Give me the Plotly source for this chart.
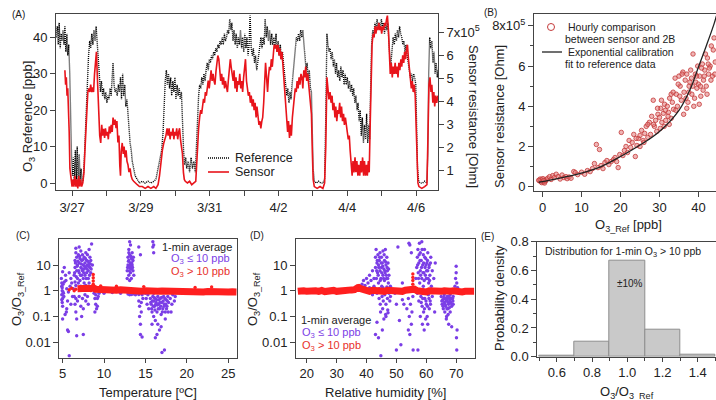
import plotly.graph_objects as go
import pandas as pd

W, H = 716, 400
FONT = "Liberation Sans, Arial, sans-serif"
BASE = pd.Timestamp("2017-03-27 00:00")

# ---------------- Panel A: time series (hours after 3/27 00:00) ----------------
ref_series = [
(-11,40),(-10.3,43),(-9.6,38),(-9,44),(-8.3,37),(-7.6,41),(-7,39),(-6.3,42),(-5.6,38),(-5,43),(-4.3,36),(-3.6,41),(-3,35),(-2.3,38),(-1.6,30),(-1,16),(-0.4,8),(0.3,2),(1,7),(1.6,0),(2.3,9),(3,1),(3.6,10),(4.3,0),(5,8),(5.6,1),(6.3,4),(7,0),(7.8,1),(8.5,6),(9.3,15),(10,22),(10.8,29),(11.5,35),(12.3,39),(13,37),(13.8,41),(14.5,38),(15.3,42),(16,39),(16.8,43),(17.5,38),(18.2,33),(19,27),(19.8,25),(20.5,28),(21.3,24),(22,26),(22.8,23),(23.5,25),(24.3,22),(25,24),(25.8,23),(26.5,26),(27.3,24),(28,29),(28.6,33),(29.3,27),(30,25),(30.8,26),(31.5,24),(32.3,27),(33,25),(33.8,29),(34.5,23),(35.3,30),(36,24),(36.8,27),(37.5,21),(38.3,23),(39,18),(39.8,15),(40.5,11),(41.3,9),(42,6),(43,4),(44,2),(45.5,1),(47,0),(49,0.5),(51,0),(53,0.5),(55,0),(57,0.5),(58.5,1),(59.5,3),(60.5,5),(61.5,8),(62.5,9),(63.5,14),(64.3,22),(65,28),(65.8,31),(66.5,27),(67.3,30),(68,26),(68.8,29),(69.5,24),(70.3,28),(71,25),(71.8,29),(72.5,23),(73.3,27),(74,24),(74.8,26),(75.5,23),(76.3,25),(77,16),(77.8,9),(78.5,5),(79.3,7),(80,4),(81,6),(82,3),(83,7),(84,4),(85,6),(86,3),(86.8,12),(87.5,20),(88.3,24),(89,27),(89.8,26),(90.5,29),(91.3,27),(92,30),(92.8,28),(93.5,31),(94.3,33),(95,31),(95.8,34),(96.5,33),(97.3,35),(98,34),(98.8,36),(99.5,35),(100.3,37),(101,36),(101.8,38),(102.5,37),(103.3,39),(104,38),(104.8,40),(105.5,38),(106.3,41),(107,39),(107.8,40),(108.5,42),(109.3,41),(110,45),(110.8,42),(111.5,44),(112.3,39),(113,42),(113.8,38),(114.5,41),(115.3,37),(116,40),(116.8,38),(117.5,42),(118.3,37),(119,40),(119.8,36),(120.5,41),(121.3,37),(122,40),(122.8,35),(123.5,38),(124.2,46),(125,37),(125.8,35),(126.5,37),(127.3,33),(128,35),(128.8,31),(129.5,33),(130.3,36),(131,38),(131.8,40),(132.5,37),(133.3,40),(134,38),(134.7,45),(135.5,40),(136.2,43),(137,39),(137.8,42),(138.5,38),(139.3,41),(140,38),(140.8,40),(141.5,37),(142.3,41),(143,36),(143.8,39),(144.5,35),(145.3,38),(146,34),(146.8,36),(147.5,33),(148.3,30),(149,27),(149.8,24),(150.5,26),(151.3,22),(152,25),(152.8,23),(153.5,27),(154.3,30),(155,33),(155.8,37),(156.5,40),(157.3,39),(158,41),(158.8,39),(159.5,42),(160.3,40),(161,42),(161.8,38),(162.5,35),(163.3,31),(164,33),(164.8,28),(165.5,31),(166.3,26),(167,25),(167.6,14),(168.2,4),(169,0.5),(170.5,0),(172,0.5),(173.5,0),(175,0),(176.2,1),(177,18),(177.8,41),(178.5,38),(179.3,36),(180,37),(180.8,34),(181.5,36),(182.3,32),(183,34),(183.8,30),(184.5,33),(185.3,29),(186,31),(186.8,28),(187.5,32),(188.3,29),(189,31),(189.8,27),(190.5,30),(191.3,27),(192,29),(192.8,26),(193.5,28),(194.3,25),(195,27),(195.8,24),(196.5,26),(197.3,22),(198,24),(198.8,20),(199.5,22),(200.3,17),(201,20),(201.8,13),(202.5,18),(203.3,11),(204,16),(204.8,12),(205.5,19),(206.3,11),(207,16),(207.6,12),(208.3,26),(209,38),(209.8,42),(210.5,40),(211.3,44),(212,42),(212.8,45),(213.5,43),(214.3,44),(215,42),(215.8,45),(216.5,43),(217.3,44),(218,41),(218.8,44),(219.5,42),(220.3,44),(221,39),(221.8,34),(222.5,33),(223.3,37),(224,40),(224.8,38),(225.5,41),(226.3,39),(227,42),(227.8,40),(228.5,43),(229.3,41),(230,40),(230.8,38),(231.5,39),(232.3,36),(233,38),(233.8,35),(234.5,33),(235.3,30),(236,29),(236.8,30),(237.5,28),(238.3,30),(239,29),(239.8,27),(240.5,14),(241,4),(241.8,0.5),(243,0),(244.5,0),(246,0.5),(247.5,0),(248.2,8),(248.8,30),(249.5,40),(250.2,37),(251,39),(251.8,33),(252.5,36),(253.3,30),(254,33),(254.8,29),(255.3,31)
]
ref_hours = [p[0] for p in ref_series]
ref_ppb = [p[1] for p in ref_series]

# sensor resistance in units of 1e5 Ohm
sensor_series = [
(-5,5.35),(-4.5,4.72),(-4,5.04),(-3.5,4.24),(-3,4.56),(-2.5,3.93),(-2,2.66),(-1.5,1.07),(-1,0.75),(-0.5,0.44),(0,0.28),(0.7,0.59),(1.3,0.28),(2,0.75),(2.7,0.28),(3.3,0.59),(4,0.2),(4.7,0.75),(5.3,0.28),(6,0.59),(6.7,0.28),(7.5,0.44),(8.3,0.9),(9,1.86),(9.7,3.0),(10.4,3.77),(11,4.4),(11.7,4.56),(12.4,4.4),(13,4.72),(13.7,4.4),(14.4,4.6),(15,4.4),(15.7,5.2),(16.3,5.6),(17,6.15),(17.5,5.3),(18,4.24),(18.6,3.3),(19.3,2.5),(20,2.18),(20.7,2.97),(21.3,2.5),(22,2.8),(22.7,2.4),(23.3,2.82),(24,2.5),(24.7,2.66),(25.3,2.34),(26,2.9),(26.7,2.6),(27.3,2.97),(28,2.66),(28.6,3.29),(29.3,2.97),(30,3.2),(30.7,2.82),(31.3,3.13),(32,2.2),(32.7,2.5),(33.3,1.2),(33.8,0.75),(34.3,1.8),(35,2.18),(35.7,1.7),(36.3,2.02),(37,1.55),(37.7,1.86),(38.3,1.39),(39,1.23),(39.7,0.91),(40.5,1.07),(41.2,0.75),(42,0.59),(43,0.51),(44,0.44),(45.5,0.36),(47,0.28),(49,0.28),(51,0.2),(53,0.28),(55,0.2),(57,0.28),(58.5,0.2),(60,0.36),(61,0.75),(62,1.39),(63,1.86),(64,2.18),(64.8,2.34),(65.5,2.5),(66.3,2.82),(67,2.5),(67.7,2.82),(68.4,2.34),(69,2.66),(69.7,2.5),(70.4,2.82),(71,2.34),(71.7,2.66),(72.4,2.5),(73,2.82),(73.7,2.34),(74.4,2.66),(75,2.82),(75.7,2.3),(76.3,2.02),(77,1.71),(77.7,0.9),(78.3,0.59),(79,0.51),(80.5,0.44),(82,0.51),(83.5,0.36),(85,0.44),(86.3,0.51),(86.9,1.2),(87.6,2.2),(88.3,2.82),(89,3.29),(89.7,3.61),(90.4,3.45),(91,3.9),(91.7,4.1),(92.4,3.93),(93,4.4),(93.7,4.24),(94.4,4.72),(95,4.9),(95.7,4.56),(96.4,5.04),(97,5.35),(97.7,4.88),(98.4,5.19),(99,4.9),(99.7,4.72),(100.4,5.3),(101,5.67),(101.7,5.99),(102.4,5.83),(103,5.35),(103.7,4.88),(104.4,5.19),(105,4.72),(105.7,5.04),(106.4,4.56),(107,4.88),(107.7,4.56),(108.4,4.4),(109,4.88),(109.7,5.35),(110.4,5.83),(111,5.5),(111.7,5.19),(112.4,4.88),(113,5.35),(113.7,4.56),(114.4,5.04),(115,4.4),(115.7,4.88),(116.4,4.72),(117,5.19),(117.7,4.56),(118.4,4.88),(119,4.4),(119.7,5.04),(120.4,5.5),(121,5.83),(121.7,4.88),(122.4,4.56),(123,4.24),(123.7,4.4),(124.4,3.93),(125,4.24),(125.7,3.77),(126.4,4.08),(127,3.61),(127.7,3.93),(128.4,3.29),(129,3.77),(129.7,3.13),(130.4,2.97),(131,3.13),(131.7,2.82),(132.4,3.13),(133,3.29),(133.7,3.93),(134.4,4.72),(135,5.67),(135.7,5.04),(136.4,4.4),(137,5.04),(137.7,5.5),(138.4,5.35),(139,5.83),(139.7,5.5),(140.4,6.15),(141,6.46),(141.7,6.3),(142.4,6.46),(143,6.15),(143.7,6.46),(144.4,6.0),(145,6.3),(145.7,5.83),(146.4,6.15),(147,5.67),(147.7,5.04),(148.4,4.4),(149,3.77),(149.7,3.29),(150.4,2.66),(151,3.13),(151.7,2.4),(152.4,2.97),(153,2.5),(153.7,3.29),(154.4,3.77),(155,4.24),(155.7,4.56),(156.4,4.4),(157,4.88),(157.7,4.56),(158.4,5.04),(159,4.72),(159.7,5.19),(160.4,5.04),(161,4.56),(161.7,5.35),(162.4,5.04),(163,5.51),(163.7,4.88),(164.4,5.19),(165,4.72),(165.7,4.24),(166.4,3.93),(167,3.45),(167.6,1.86),(168.2,0.59),(169,0.28),(171,0.2),(173,0.28),(175,0.2),(176.2,0.44),(177,2.02),(177.8,5.04),(178.5,4.56),(179.2,4.08),(180,4.4),(180.7,3.93),(181.4,4.24),(182,3.61),(182.7,3.93),(183.4,3.29),(184,3.77),(184.7,3.13),(185.4,3.61),(186,3.45),(186.7,3.93),(187.4,3.29),(188,3.77),(188.7,3.13),(189.4,3.45),(190,2.97),(190.7,3.29),(191.4,2.82),(192,2.66),(192.7,2.34),(193.4,2.5),(194,1.86),(194.7,1.23),(195.4,0.75),(196,1.39),(196.7,0.9),(197.4,1.55),(198,0.91),(198.7,1.39),(199.4,0.75),(200,1.23),(200.7,0.75),(201.4,1.39),(202,0.9),(202.7,1.55),(203.4,0.75),(204,1.39),(204.7,0.75),(205.4,1.23),(206,0.75),(206.7,1.39),(207.3,0.9),(208,3.0),(208.6,5.04),(209.3,6.46),(210,6.94),(210.7,6.78),(211.4,7.26),(212,6.94),(212.7,7.26),(213.4,7.1),(214,7.41),(214.7,7.1),(215.4,7.26),(216,6.94),(216.7,7.26),(217.4,7.1),(218,7.41),(218.7,7.26),(219.4,7.57),(220,7.73),(220.7,7.1),(221.3,5.83),(222,5.19),(222.7,5.67),(223.4,5.04),(224,5.51),(224.7,5.19),(225.4,5.67),(226,5.19),(226.7,5.51),(227.4,5.04),(228,5.67),(228.7,5.35),(229.4,5.83),(230,5.5),(230.7,6.0),(231.4,5.67),(232,6.15),(232.7,5.83),(233.4,6.3),(234,6.46),(234.7,5.83),(235.4,5.35),(236,5.04),(236.7,4.56),(237.4,4.88),(238,4.4),(238.7,4.72),(239.4,4.24),(240,3.0),(240.6,1.07),(241.3,0.44),(242,0.28),(244,0.2),(246,0.28),(247.6,0.36),(248.3,2.5),(249,4.72),(249.7,5.04),(250.4,4.4),(251,4.72),(251.7,3.93),(252.4,4.4),(253,3.77),(253.7,4.24),(254.4,3.93),(255.2,4.24)
]
sensor_hours = [p[0] for p in sensor_series]
sensor_res_e5 = [p[1] for p in sensor_series]

date_ticks = ["2017-03-27", "2017-03-29", "2017-03-31", "2017-04-02", "2017-04-04", "2017-04-06"]
date_labels = ["3/27", "3/29", "3/31", "4/2", "4/4", "4/6"]

# ---------------- Panel B: hourly comparison ----------------
hourly_pairs = [
(-0.8,0.3),(-0.5,0.25),(-0.3,0.35),(0,0.28),(0.2,0.22),(0.4,0.33),(0.6,0.26),(-0.6,0.38),(0.1,0.4),(0.8,0.3),(-0.2,0.2),(0.5,0.18),(1.0,0.35),(-1,0.32),(0.3,0.3),
(1.3,0.42),(1.8,0.5),(2.2,0.36),(2.6,0.55),(3.0,0.45),(3.5,0.62),(4.0,0.5),(4.5,0.38),(5.0,0.58),(5.5,0.45),(6.0,0.5),(6.3,0.4),(6.8,0.48),(7.3,0.42),(8.0,0.75),(8.4,0.7),(9.0,0.6),
(10.0,0.72),(10.8,0.62),(11.5,0.8),(12.2,0.75),(12.8,0.9),(13.3,1.15),(13.8,2.1),(14.2,0.95),(14.6,1.85),(15.0,1.05),(15.5,0.9),(16.0,1.2),(16.5,1.3),(17.0,1.1),(17.6,1.25),(18.2,1.35),(18.6,1.45),(19.0,1.25),(19.4,0.95),(19.8,1.6),
(20.2,2.7),(20.6,1.55),(21.0,1.8),(21.4,2.0),(21.8,1.7),(22.2,2.3),(22.6,1.95),(23.0,2.2),(23.4,2.6),(23.8,1.5),(24.2,2.05),(24.6,2.4),(25.0,2.55),(25.4,2.8),(25.8,2.3),(26.2,2.65),(26.6,3.0),(27.0,2.45),(27.4,3.2),(27.7,2.6),(28.0,3.5),(28.4,4.3),(28.7,3.0),(29.0,3.3),(29.3,2.75),(29.6,3.6),(30.0,3.45),(30.3,3.9),(30.6,3.2),(31.0,3.65),(31.3,4.1),(31.6,3.3),(32.0,4.0),(32.3,3.7),(32.6,4.4),(33.0,3.4),(33.3,4.2),(33.6,3.85),(34.0,5.4),(34.3,4.6),(34.6,4.0),(35.0,5.5),(35.3,5.0),(35.6,4.3),(36.0,5.7),(36.3,4.7),(36.6,5.3),(37.0,5.6),(37.3,4.2),(37.6,5.0),(38.0,5.8),(38.3,4.6),(38.6,6.6),(39.0,4.4),(39.3,5.2),(39.6,4.9),(40.0,5.1),(40.3,5.5),(40.6,4.5),(41.0,6.1),(41.3,5.3),(41.6,5.8),(42.0,5.0),(42.3,6.4),(42.6,5.6),(43.0,6.0),(43.3,7.0),(43.6,5.5),(44.0,7.4),(44.3,6.2),(36.2,3.6),(37.0,3.9),(38.2,5.4),(39.2,5.6),(40.2,4.1),(41.2,4.8),(42.2,4.6),(43.2,5.3),(35.2,4.5),(34.2,3.8),(33.0,4.6),(32.2,3.5),(31.2,3.0),(30.2,2.9),(39.8,6.0),(40.8,5.9),(41.8,6.6),(38.8,4.0),(37.8,5.2),(36.8,4.4),(35.8,5.6),(34.8,5.1),(42.8,5.9),(43.8,6.8),(44.2,5.6),(39.5,5.5),(40.5,5.0),(38.5,5.0),(37.5,4.7),(41.5,5.5),(42.5,6.1),(27.0,3.1),(26.0,2.2),(25.0,2.0),(24.0,2.4),(28.5,3.1),(29.5,3.9),(30.5,4.3),(31.5,3.8),(32.5,3.1),(33.5,4.7)
]
hourly_ref = [p[0] for p in hourly_pairs]
hourly_res_e5 = [p[1] for p in hourly_pairs]

fit_ref = [-1, 0, 5, 10, 15, 20, 25, 30, 35, 38, 40, 42, 44, 44.6]
fit_res_e5 = [0.22, 0.25, 0.45, 0.68, 1.0, 1.5, 2.07, 2.75, 3.8, 4.9, 5.95, 7.0, 8.1, 8.5]

# ---------------- Panel C: ratio vs temperature ----------------
c_low_pairs = [
(4.85,3.0),(4.9,2.0),(4.9,1.5),(4.95,1.0),(4.9,0.7),(5.0,0.5),(4.95,0.35),(5.0,0.25),(5.05,1.8),(5.1,0.8),(5.0,5.5),(5.2,8),(5.0,0.08),(5.3,0.12),(5.15,0.6),
(5.4,2.5),(5.5,1.2),(5.6,0.4),(5.5,0.2),(5.6,0.03),(5.7,0.026),(5.8,0.003),(5.7,0.9),(5.9,1.5),(6.0,3),(6.1,2),(6.2,0.6),(6.0,0.3),(5.8,5),(6.3,1.2),(5.35,4),(5.45,0.15),
(6.4,4),(6.5,8),(6.5,15),(6.6,30),(6.6,45),(6.7,20),(6.7,6),(6.8,3),(6.8,10),(6.9,25),(7.0,50),(7.0,12),(7.0,5),(7.1,2.5),(7.1,18),(7.2,8),(7.2,35),(7.3,4),(7.3,15),(7.4,6),(7.4,25),(7.5,10),(7.5,3),(7.6,20),(7.6,7),(7.7,12),(7.7,4),(7.8,30),(7.8,8),(7.9,15),(7.9,5),(8.0,10),(8.0,25),(8.1,6),(8.1,3),(8.2,12),(8.2,40),(8.3,8),(8.3,20),(8.4,5),(8.4,15),(8.5,65),(8.6,10),(6.9,2),(7.6,2),(8.2,2),(6.5,2.2),
(6.45,5),(6.55,12),(6.65,3.5),(6.75,9),(6.85,14),(6.95,6),(7.05,22),(7.15,4),(7.25,11),(7.35,7),(7.45,16),(7.55,5),(7.65,9),(7.75,18),(7.85,3),(7.95,7),(8.05,14),(8.15,9),(8.25,4),(8.35,11),(8.45,7),(6.6,1.6),(7.2,1.5),(7.8,1.6),
(6.4,0.6),(6.5,0.3),(6.6,0.15),(6.6,0.5),(6.7,0.08),(6.8,0.4),(6.7,0.018),(7.0,0.6),(7.2,0.25),(7.3,0.1),(7.4,0.5),(7.5,0.2),(7.7,0.7),(7.8,0.4),(8.0,0.6),(8.1,0.3),(7.5,0.02),
(8.8,0.8),(8.9,0.5),(9.0,0.3),(9.0,0.7),(9.1,0.2),(9.2,0.5),(9.2,0.25),(9.3,0.6),(9.4,0.8),(8.9,0.15),
(10,0.8),(11,0.85),(12,0.8),
(12.8,3),(12.8,6),(12.9,10),(12.9,20),(13.0,4),(13.0,15),(13.0,40),(13.1,8),(13.1,25),(13.2,5),(13.2,12),(13.2,60),(13.3,7),(13.3,18),(13.4,10),(13.4,30),(13.5,6),(13.5,15),(13.6,4),(13.1,80),(13.3,3),(13.1,2.5),
(12.85,8),(12.95,14),(13.05,6),(13.15,10),(13.25,22),(13.35,12),(13.45,8),(13.55,20),(13.0,30),(13.2,9),
(12.9,0.75),(13.1,0.7),(13.3,0.72),(13.5,0.75),(13.8,0.7),(14.2,0.72),
(14.2,50),(14.4,25),(14.2,0.4),(14.3,0.25),(14.3,0.1),(14.4,0.05),(14.4,0.02),(14.5,0.15),(14.5,0.35),(14.6,0.016),(14.7,0.5),(14.6,0.7),
(15.0,0.8),(15.1,0.5),(15.2,0.3),(15.3,0.7),(15.4,0.2),
(15.6,0.5),(15.7,0.3),(15.8,0.15),(15.9,0.6),(16.0,0.4),(16.0,0.1),(16.1,0.25),(16.2,0.5),(16.2,0.07),(16.3,0.35),(16.4,0.15),(16.5,0.6),(16.5,0.05),(16.6,0.3),(16.7,0.2),(16.7,0.03),(16.8,0.5),(16.9,0.12),(17.0,0.35),(17.0,0.004),(17.1,0.2),(17.2,0.6),(17.3,0.005),(17.3,0.3),(17.4,0.15),(17.5,0.45),(17.6,0.25),(17.7,0.6),(17.8,0.35),(16.4,0.02),(16.9,0.04),(17.4,0.08),(15.8,0.05),(16.2,0.015),
(15.65,0.35),(15.75,0.2),(15.85,0.4),(15.95,0.25),(16.05,0.55),(16.15,0.18),(16.25,0.3),(16.35,0.45),(16.45,0.28),(16.55,0.2),(16.65,0.45),(16.75,0.35),(16.85,0.25),(16.95,0.55),(17.05,0.15),(17.15,0.4),(17.25,0.25),(17.35,0.5),(17.45,0.3),(17.55,0.2),(17.65,0.4),(17.75,0.15),
(15.9,80),(15.9,50),(16.0,30),(16.0,60),(16.0,0.8),(15.7,1.0),
(18.0,0.5),(18.2,0.3),(18.3,0.7),(18.5,0.4),(18.6,0.6),(18.1,0.15),
(4.95,1.3),(5.05,0.9),(4.9,0.45),(5.2,2.2)
]
c_low_temp = [p[0] for p in c_low_pairs]
c_low_ratio = [p[1] for p in c_low_pairs]

c_high_temp = [6.8,7.2,7.5,7.8,8.1,8.4,8.7,9.0,9.5,10,10.5,11,11.5,12,12.5,13,13.5,14,14.5,15,15.5,16,16.5,17,17.5,18,18.5,19,19.5,20,20.5,21,21.5,22,22.5,23,23.5,24,24.5,25,25.5,26]
c_high_ratio = [1.2,1.25,1.2,1.15,1.25,1.2,1.3,1.15,1.1,1.15,1.1,1.12,1.05,1.1,1.05,1.0,1.05,1.0,0.95,1.0,0.95,1.0,0.95,0.97,0.95,0.93,0.95,0.92,0.95,0.9,0.93,0.9,0.92,0.9,0.93,0.9,0.92,0.9,0.92,0.9,0.91,0.9]
c_high_extra_temp = [5.8,6.1,6.4,6.6,8.7,8.7,8.7,8.7,9.6,11.5,14.8,21,23]
c_high_extra_ratio = [1.1,1.25,1.0,1.15,1.8,2.4,3.2,4.3,1.55,1.5,1.45,1.35,1.4]

# ---------------- Panel D: ratio vs relative humidity ----------------
d_low_pairs = [
(38.5,1.8),(39,2.5),(39.5,1.6),(40,3),(40.5,2),(41,4),(41.5,2.5),(42,6),(42.5,3),(41,1.3),(42,0.7),(42.5,1.5),
(43,8),(43,20),(43.2,40),(43.3,3),(43.5,12),(43.5,0.8),(43.7,5),(43.8,25),(44,2),(44,10),(44.2,0.5),(44.3,15),(44.5,6),(44.5,30),(44.6,0.3),(44.8,3),(45,8),(45,20),(45.1,1.5),(45.2,0.6),(45.3,12),(45.5,4),(45.5,35),(45.6,0.4),(45.8,7),(46,15),(46,2.5),(46.1,0.7),(46.2,5),(46.3,40),(46.5,10),(46.5,0.3),(46.7,3),(46.8,20),(47,6),(47,0.5),(47.2,12),(47.3,2),(47.5,0.8),(47.5,4),(47.8,0.4),(48,1.5),(48,0.6),(44.7,0.15),(45.4,0.2),(46.4,0.12),(47.1,0.18),(43.5,0.06),(44,0.015),(44.8,0.003),(45.3,0.03),(46.5,0.1),(47.2,0.14),(43,0.02),(45.8,0.08),
(43.4,6),(43.6,15),(43.9,4),(44.1,8),(44.4,20),(44.6,2.5),(44.9,12),(45.1,5),(45.4,9),(45.7,3),(45.9,25),(46.1,6),(46.4,13),(46.6,4),(46.9,8),(47.1,3),(47.4,7),(44.3,1.2),(45.5,1.3),(46.8,1.4),
(49.5,0.8),(50,0.3),(50.5,50),(51,0.07),(51.5,0.008),(52,0.45),(52.5,0.3),(50,0.005),(52,2),
(53.5,0.2),(54,0.03),(54,0.5),(54.3,0.1),(54.5,0.02),(54.5,60),(54.7,0.3),(55,0.05),(55,30),(55.5,0.6),(55.2,0.15),(54.2,70),(55.6,0.005),
(56.5,3),(56.8,8),(57,20),(57,0.8),(57.2,40),(57.3,5),(57.5,12),(57.5,0.4),(57.7,70),(57.8,2),(58,30),(58,6),(58.2,0.6),(58.3,15),(58.5,80),(58.5,3),(58.6,0.25),(58.8,10),(59,25),(59,1.5),(59.1,0.15),(59.2,5),(59.4,40),(59.5,0.5),(59.6,8),(59.8,18),(60,3),(60,0.3),(60.2,12),(60.3,0.1),(60.5,6),(60.5,30),(60.7,0.7),(60.8,2),(61,10),(61,0.2),(61.2,4),(61.3,0.4),(61.5,20),(61.7,1.5),(62,0.6),(62,6),(58,0.1),(58.7,0.05),(59.3,0.03),(57.2,0.005),(60.5,0.05),(59.8,0.08),(62.5,3),(62.8,0.15),(63,12),
(57.1,10),(57.4,3),(57.6,25),(57.9,15),(58.1,4),(58.4,8),(58.6,40),(58.9,5),(59.1,12),(59.3,2.5),(59.5,20),(59.7,4),(59.9,10),(60.1,6),(60.4,15),(60.6,3),(60.9,8),(61.1,2.5),(61.4,12),(58.3,0.35),(58.8,0.5),(59.4,0.2),(59.9,0.4),(60.4,0.25),(60.9,0.5),(61.4,0.3),
(65,0.6),(65.3,0.3),(65.5,0.45),(65.7,0.2),(66,0.7),(66,0.35),(66.2,0.15),(66.5,0.5),(66.5,0.25),(66.8,0.1),(67,0.4),(67,0.6),(67.2,0.2),(67.5,0.3),(67.5,0.05),(67.8,0.5),(68,0.15),(68,0.7),(68.2,0.35),(68.5,0.25),(68.5,0.04),(68.8,0.5),(69,0.3),(69,0.6),(66.7,0.08),(67.3,0.12),
(65.2,0.4),(65.6,0.25),(65.9,0.55),(66.3,0.3),(66.6,0.4),(66.9,0.2),(67.1,0.5),(67.4,0.35),(67.7,0.22),(67.9,0.4),(68.3,0.5),(68.6,0.3),(68.9,0.4),(66.1,0.5),(67.6,0.6),
(69.6,1.5),(69.8,3),(70,5),(70,9),(70.2,2),(70.3,0.03),(70.1,0.015),(70.2,0.005),(70.5,1.3)
]
d_low_rh = [p[0] for p in d_low_pairs]
d_low_ratio = [p[1] for p in d_low_pairs]

d_high_rh = list(range(17, 77))
d_high_ratio = [0.95,0.9,1.0,0.95,1.0,0.92,1.0,0.95,1.02,0.93,1.0,0.95,1.03,0.95,1.0,0.97,1.05,1.0,1.08,1.1,1.3,1.2,1.05,1.0,0.95,1.05,1.0,1.1,1.0,0.95,1.05,1.0,0.95,1.0,0.92,0.95,1.05,1.1,1.2,1.15,1.0,0.95,1.05,0.9,1.0,0.95,1.0,0.92,0.95,1.0,0.9,0.95,1.0,0.92,0.95,0.9,0.95,0.92,1.0,0.95]
d_high_extra_rh = [55.5,55.5,55.5,55.5,37.5,37.8]
d_high_extra_ratio = [1.8,2.5,3.3,4.5,1.6,1.5]

# ---------------- Panel E: histogram ----------------
hist_centers = [0.6, 0.8, 1.0, 1.2, 1.4]
hist_density = [0.004, 0.105, 0.67, 0.19, 0.015]

PURPLE = "#7b3ee6"
RED = "#ff1f1f"
AX = "#444444"
TXT = "#222222"

def xd(px):
    return px / W

def yd(py):
    return 1 - py / H

fig = go.Figure()

# Panel A
fig.add_trace(go.Scatter(x=[BASE + pd.Timedelta(hours=h) for h in ref_hours], y=ref_ppb,
                         mode="lines", line=dict(color="black", width=1.4, dash="1px,1px"),
                         xaxis="x", yaxis="y", name="Reference"))
fig.add_trace(go.Scatter(x=[BASE + pd.Timedelta(hours=h) for h in sensor_hours], y=sensor_res_e5,
                         mode="lines", line=dict(color="#e8141b", width=1.6),
                         xaxis="x", yaxis="y2", name="Sensor"))

# Panel B
fig.add_trace(go.Scatter(x=hourly_ref, y=hourly_res_e5, mode="markers",
                         marker=dict(size=4.5, color="rgba(225,120,120,0.55)",
                                     line=dict(color="#c43a3a", width=0.8)),
                         xaxis="x2", yaxis="y3", name="Hourly"))
fig.add_trace(go.Scatter(x=fit_ref, y=fit_res_e5, mode="lines", line=dict(color="#222", width=1.3, shape="spline"),
                         xaxis="x2", yaxis="y3", name="Fit"))

# Panel C
fig.add_trace(go.Scatter(x=c_low_temp, y=c_low_ratio, mode="markers",
                         marker=dict(size=3.4, color=PURPLE), xaxis="x3", yaxis="y4"))
fig.add_trace(go.Scatter(x=c_high_temp, y=c_high_ratio, mode="lines",
                         line=dict(color=RED, width=7), xaxis="x3", yaxis="y4"))
fig.add_trace(go.Scatter(x=c_high_extra_temp, y=c_high_extra_ratio, mode="markers",
                         marker=dict(size=3.4, color=RED), xaxis="x3", yaxis="y4"))

# Panel D
fig.add_trace(go.Scatter(x=d_low_rh, y=d_low_ratio, mode="markers",
                         marker=dict(size=3.4, color=PURPLE), xaxis="x4", yaxis="y5"))
fig.add_trace(go.Scatter(x=d_high_rh, y=d_high_ratio, mode="lines",
                         line=dict(color=RED, width=7), xaxis="x4", yaxis="y5"))
fig.add_trace(go.Scatter(x=d_high_extra_rh, y=d_high_extra_ratio, mode="markers",
                         marker=dict(size=3.4, color=RED), xaxis="x4", yaxis="y5"))

# Panel E
fig.add_trace(go.Bar(x=hist_centers, y=hist_density, width=0.2,
                     marker=dict(color="#c9c9c9", line=dict(color="#8e8e8e", width=1)),
                     xaxis="x5", yaxis="y6"))

tickfont = dict(family=FONT, size=13, color=TXT)
base_ax = dict(showgrid=False, zeroline=False, showline=True, linecolor=AX, linewidth=1,
               ticks="outside", ticklen=5, tickcolor=AX, tickfont=tickfont)

def axis(**kw):
    d = dict(base_ax)
    d.update(kw)
    return d

layout = dict(
    width=W, height=H, margin=dict(l=0, r=0, t=0, b=0),
    paper_bgcolor="white", plot_bgcolor="white", showlegend=False,
    template="none", font=dict(family=FONT, color=TXT),
    bargap=0,
    xaxis=axis(domain=[xd(56), xd(438)], anchor="y", type="date", mirror=True,
               range=[BASE + pd.Timedelta(hours=-11.2), BASE + pd.Timedelta(hours=255.3)],
               tickvals=date_ticks, ticktext=date_labels,
               minor=dict(dtick=86400000, tick0="2017-03-27", ticks="outside", ticklen=5, tickcolor=AX)),
    yaxis=axis(domain=[yd(190), yd(14)], anchor="x", range=[-1.9, 46.4],
               tickvals=[0, 10, 20, 30, 40]),
    yaxis2=axis(overlaying="y", side="right", anchor="x", range=[0.13, 7.8],
                tickvals=[1, 2, 3, 4, 5, 6, 7],
                ticktext=["1", "2", "3", "4", "5", "6", "7x10<sup>5</sup>"]),
    xaxis2=axis(domain=[xd(534), 1.0], anchor="y3", range=[-2.2, 44.5], mirror=True,
                tickvals=[0, 10, 20, 30, 40]),
    yaxis3=axis(domain=[yd(190.7), yd(14)], anchor="x2", range=[-0.2, 8.59],
                tickvals=[0, 2, 4, 6, 8], ticktext=["0", "2", "4", "6", "8x10<sup>5</sup>"],
                minor=dict(tickvals=[1, 3, 5, 7], ticks="outside", ticklen=3, tickcolor=AX)),
    xaxis3=axis(domain=[xd(59.3), xd(237.3)], anchor="y4", range=[4.6, 26.1], mirror=True,
                tickvals=[5, 10, 15, 20, 25], ticklen=4),
    yaxis4=axis(domain=[yd(357.7), yd(239)], anchor="x3", type="log", range=[-2.6, 2.01], mirror=True,
                tickvals=[0.01, 0.1, 1, 10], ticktext=["0.01", "0.1", "1", "10"]),
    xaxis4=axis(domain=[xd(296), xd(475)], anchor="y5", range=[16.4, 76.3], mirror=True,
                tickvals=[20, 30, 40, 50, 60, 70], ticklen=4),
    yaxis5=axis(domain=[yd(357.7), yd(239)], anchor="x4", type="log", range=[-2.6, 2.01], mirror=True,
                tickvals=[0.01, 0.1, 1, 10], ticktext=["0.01", "0.1", "1", "10"]),
    xaxis5=axis(domain=[xd(537.3), 1.0], anchor="y6", range=[0.489, 1.504], mirror=True,
                tickvals=[0.6, 0.8, 1.0, 1.2, 1.4], ticktext=["0.6", "0.8", "1.0", "1.2", "1.4"], ticklen=4,
                minor=dict(tickvals=[0.5, 0.7, 0.9, 1.1, 1.3, 1.5], ticks="outside", ticklen=3, tickcolor=AX)),
    yaxis6=axis(domain=[yd(356.7), yd(241.7)], anchor="x5", range=[0, 0.8],
                tickvals=[0, 0.2, 0.4, 0.6, 0.8], ticktext=["0.0", "0.2", "0.4", "0.6", "0.8"],
                minor=dict(tickvals=[0.1, 0.3, 0.5, 0.7], ticks="outside", ticklen=3, tickcolor=AX)),
)
fig.update_layout(**layout)

def ann(text, px, py, size=13, color=TXT, angle=0, xanchor="center", yanchor="middle"):
    return dict(text=text, x=xd(px), y=yd(py), xref="paper", yref="paper", showarrow=False,
                font=dict(family=FONT, size=size, color=color), textangle=angle,
                xanchor=xanchor, yanchor=yanchor)

O3R = "O<sub>3</sub>/O<sub>3_Ref</sub>"
annotations = [
    ann("(A)", 18, 15, size=10),
    ann("(B)", 490, 12, size=10),
    ann("(C)", 23, 235, size=10),
    ann("(D)", 257, 235, size=10),
    ann("(E)", 488, 236, size=10),
    ann("O<sub>3</sub> Reference [ppb]", 28, 117, angle=-90),
    ann("Sensor resistance [Ohm]", 474, 116, angle=90),
    ann("Sensor resistance [Ohm]", 499, 117, angle=-90),
    ann("O<sub>3_Ref</sub> [ppb]", 628, 225),
    ann(O3R, 17, 299, angle=-90),
    ann("Temperature [ºC]", 148, 392),
    ann(O3R, 253, 299, angle=-90),
    ann("Relative humidity [%]", 385, 392),
    ann("Probability density", 499, 298, angle=-90),
    ann(O3R, 627, 392),
    # panel A legend
    ann("Reference", 233, 158, size=12.5, xanchor="left"),
    ann("Sensor", 233, 172, size=12.5, xanchor="left"),
    # panel B legend
    ann("Hourly comparison", 566, 27, size=10.5, xanchor="left"),
    ann("between sensor and 2B", 563, 39, size=10.5, xanchor="left"),
    ann("Exponential calibration", 566, 52, size=10.5, xanchor="left"),
    ann("fit to reference data", 563, 64, size=10.5, xanchor="left"),
    # panel C legend
    ann("1-min average", 234, 247, size=11, xanchor="right"),
    ann("O<sub>3</sub> ≤ 10 ppb", 232, 259, size=11, color=PURPLE, xanchor="right"),
    ann("O<sub>3</sub> &gt; 10 ppb", 232, 272, size=11, color="#e8302a", xanchor="right"),
    # panel D legend
    ann("1-min average", 299, 320, size=11, xanchor="left"),
    ann("O<sub>3</sub> ≤ 10 ppb", 300, 333, size=11, color=PURPLE, xanchor="left"),
    ann("O<sub>3</sub> &gt; 10 ppb", 300, 346, size=11, color="#e8302a", xanchor="left"),
    # panel E text
    ann("Distribution for 1-min O<sub>3</sub> &gt; 10 ppb", 543, 252, size=10.5, xanchor="left"),
    ann("±10%", 630, 283, size=10),
]
fig.update_layout(annotations=annotations)

shapes = [
    dict(type="line", xref="paper", yref="paper", x0=xd(208), x1=xd(229), y0=yd(158), y1=yd(158),
         line=dict(color="black", width=1.4, dash="1px,1px")),
    dict(type="line", xref="paper", yref="paper", x0=xd(208), x1=xd(229), y0=yd(172), y1=yd(172),
         line=dict(color="#e8141b", width=1.6)),
    dict(type="line", xref="paper", yref="paper", x0=xd(542), x1=xd(562), y0=yd(52), y1=yd(52),
         line=dict(color="#222", width=1.3)),
    dict(type="circle", xref="paper", yref="paper", x0=xd(547.5), x1=xd(554.5), y0=yd(30.5), y1=yd(23.5),
         line=dict(color="#c43a3a", width=1)),
]
fig.update_layout(shapes=shapes)

fig.write_html("out.html", config={"displayModeBar": False},
               post_script="document.body.style.margin='0';document.body.style.overflow='hidden';")
